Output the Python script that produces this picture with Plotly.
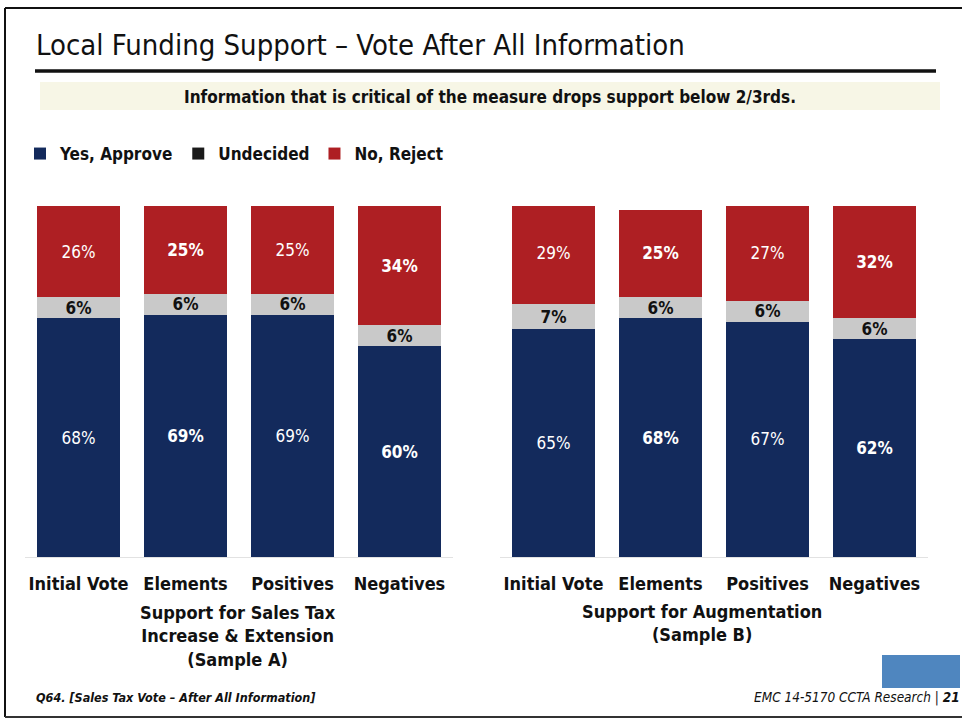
import plotly.graph_objects as go

W, H = 962, 723

categories = ["Initial Vote", "Elements", "Positives", "Negatives"]

# Sample A: Support for Sales Tax Increase & Extension
a_yes = [68, 69, 69, 60]
a_undecided = [6, 6, 6, 6]
a_no = [26, 25, 25, 34]

# Sample B: Support for Augmentation
b_yes = [65, 68, 67, 62]
b_undecided = [7, 6, 6, 6]
b_no = [29, 25, 27, 32]

group_a_label = "Support for Sales Tax<br>Increase & Extension<br>(Sample A)"
group_b_label = "Support for Augmentation<br>(Sample B)"

NAVY = "#132a5c"
GRAY = "#c9c9c9"
RED = "#ae1f23"
FONT = "Liberation Sans Narrow, DejaVu Sans Condensed, Arial Narrow, sans-serif"

# label weights alternate between regular and bold across the bars
weights = ["normal", "bold", "normal", "bold"]


def px_x(v):
    return v / W


def px_y(v):
    return 1 - v / H


fig = go.Figure()

for xa, yes, und, no in (("x", a_yes, a_undecided, a_no), ("x2", b_yes, b_undecided, b_no)):
    fig.add_trace(go.Bar(
        x=categories, y=yes, xaxis=xa, yaxis="y", marker_color=NAVY,
        text=[f"{v}%" for v in yes], textposition="inside", insidetextanchor="middle",
        textfont=dict(color="white", size=17, family=FONT, weight=weights),
        showlegend=False, hoverinfo="skip", marker_line_width=0,
    ))
    fig.add_trace(go.Bar(
        x=categories, y=und, xaxis=xa, yaxis="y", marker_color=GRAY,
        text=[f"{v}%" for v in und], textposition="inside", insidetextanchor="middle",
        textfont=dict(color="#111111", size=17, family=FONT, weight="bold"),
        constraintext="none",
        showlegend=False, hoverinfo="skip", marker_line_width=0,
    ))
    fig.add_trace(go.Bar(
        x=categories, y=no, xaxis=xa, yaxis="y", marker_color=RED,
        text=[f"{v}%" for v in no], textposition="inside", insidetextanchor="middle",
        textfont=dict(color="white", size=17, family=FONT, weight=weights),
        showlegend=False, hoverinfo="skip", marker_line_width=0,
    ))

# legend entries (square swatches)
for name, col in (("Yes, Approve", NAVY), ("Undecided", "#1a1a1a"), ("No, Reject", RED)):
    fig.add_trace(go.Scatter(
        x=[None], y=[None], mode="markers", name=name,
        marker=dict(symbol="square", size=10, color=col),
        xaxis="x", yaxis="y",
    ))

axis_common = dict(
    showgrid=False, zeroline=False, showline=True, linecolor="#e2e2e2", linewidth=1,
    ticks="", tickfont=dict(family=FONT, size=18, color="#111111", weight="bold"),
    ticklabelstandoff=10, fixedrange=True,
)

fig.update_layout(
    width=W, height=H,
    margin=dict(l=0, r=0, t=0, b=0),
    paper_bgcolor="white", plot_bgcolor="rgba(0,0,0,0)",
    barmode="stack", bargap=0.224,
    xaxis=dict(domain=[px_x(25), px_x(453)], anchor="y", **axis_common),
    xaxis2=dict(domain=[px_x(500), px_x(928)], anchor="y", **axis_common),
    yaxis=dict(domain=[px_y(557), px_y(206)], range=[0, 100], visible=False, fixedrange=True),
    legend=dict(
        orientation="h", x=px_x(20), y=px_y(136), xanchor="left", yanchor="top",
        font=dict(family=FONT, size=17, color="#111111", weight="bold"),
        itemsizing="constant", itemwidth=30, tracegroupgap=0, traceorder="normal",
        bgcolor="rgba(0,0,0,0)",
    ),
    font=dict(family=FONT),
)

shapes = [
    # slide frame
    dict(type="line", x0=px_x(5), x1=px_x(5), y0=px_y(8), y1=px_y(717), line=dict(color="#111111", width=2)),
    dict(type="line", x0=px_x(5), x1=1, y0=px_y(8), y1=px_y(8), line=dict(color="#111111", width=2)),
    dict(type="line", x0=px_x(5), x1=1, y0=px_y(717), y1=px_y(717), line=dict(color="#333333", width=2)),
    # title rule
    dict(type="line", x0=px_x(35), x1=px_x(936), y0=px_y(71), y1=px_y(71), line=dict(color="#111111", width=3.5)),
    # subtitle band
    dict(type="rect", x0=px_x(40), x1=px_x(940), y0=px_y(82), y1=px_y(110), fillcolor="#f7f6e6", line_width=0, layer="below"),
    # logo block
    dict(type="rect", x0=px_x(882), x1=px_x(960), y0=px_y(655), y1=px_y(688), fillcolor="#4f86bf", line_width=0),
]
for s in shapes:
    s.setdefault("xref", "paper")
    s.setdefault("yref", "paper")
fig.update_layout(shapes=shapes)

annotations = [
    dict(text="Local Funding Support – Vote After All Information", x=px_x(34), y=px_y(45),
         xanchor="left", yanchor="middle", showarrow=False,
         font=dict(family=FONT, size=29, color="#111111")),
    dict(text="Information that is critical of the measure drops support below 2/3rds.", x=px_x(490), y=px_y(97),
         xanchor="center", yanchor="middle", showarrow=False,
         font=dict(family=FONT, size=17, color="#111111", weight="bold")),
    dict(text=group_a_label, x=px_x(238), y=px_y(600), xanchor="center", yanchor="top", showarrow=False,
         font=dict(family=FONT, size=18, color="#111111", weight="bold"), align="center"),
    dict(text=group_b_label, x=px_x(702), y=px_y(599), xanchor="center", yanchor="top", showarrow=False,
         font=dict(family=FONT, size=18, color="#111111", weight="bold"), align="center"),
    dict(text="<i>Q64. [Sales Tax Vote – After All Information]</i>", x=px_x(34), y=px_y(697),
         xanchor="left", yanchor="middle", showarrow=False,
         font=dict(family=FONT, size=12.5, color="#111111", weight="bold")),
    dict(text="<i>EMC 14-5170 CCTA Research | <b>21</b></i>", x=px_x(962), y=px_y(697),
         xanchor="right", yanchor="middle", showarrow=False,
         font=dict(family=FONT, size=13.5, color="#111111")),
]
for a in annotations:
    a["xref"] = "paper"
    a["yref"] = "paper"
fig.update_layout(annotations=annotations)

fig.write_html("out.html")
